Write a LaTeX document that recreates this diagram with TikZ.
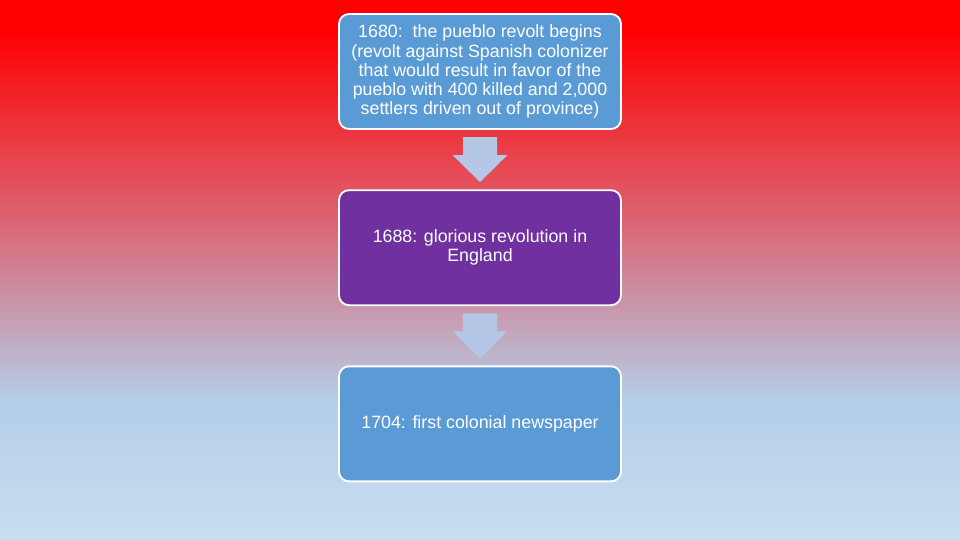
\documentclass[tikz,border=0pt]{standalone}
\usepackage{fontspec}
\setmainfont{Liberation Sans}
\usepackage{tikz}
\usetikzlibrary{positioning,calc}
\definecolor{eventblue}{RGB}{91,155,213}
\definecolor{eventpurple}{RGB}{112,48,160}
\definecolor{arrowblue}{RGB}{180,199,231}
\definecolor{bgred}{RGB}{255,0,0}
\definecolor{bgmid}{RGB}{220,100,115}
\definecolor{bgblue}{RGB}{180,206,232}
\definecolor{bglight}{RGB}{200,222,240}
% block arrow pointing down, centred on a named coordinate
\newcommand{\downarrowat}[1]{%
  \fill[arrowblue] ($(#1)+(-17,-22.5)$) -- ($(#1)+(17,-22.5)$) -- ($(#1)+(17,-4.5)$)
    -- ($(#1)+(27.5,-4.5)$) -- ($(#1)+(0,22.5)$) -- ($(#1)+(-27.5,-4.5)$)
    -- ($(#1)+(-17,-4.5)$) -- cycle;}

\begin{document}
\begin{tikzpicture}[x=0.03cm,y=-0.03cm,
    event/.style={draw=white,line width=0.055cm,rounded corners=0.3cm,
      minimum width=8.46cm,minimum height=3.45cm,text=white,align=center,
      font=\fontsize{15.2}{16.3}\selectfont},
    node distance=1.78cm]
    % Background
    \useasboundingbox (0,0) rectangle (960,540);
    \fill[bgred] (0,0) rectangle (960,30);
    \shade[top color=bgred,bottom color=bgmid] (0,29.5) rectangle (960,220);
    \shade[top color=bgmid,bottom color=bgblue] (0,219.5) rectangle (960,400);
    \shade[top color=bgblue,bottom color=bglight] (0,399.5) rectangle (960,540);
    % Events
    \node[event,fill=eventblue] (y1680) at (480,71.5)
      {1680:\ \ the pueblo revolt begins\\(revolt against Spanish colonizer\\
       that would result in favor of the\\pueblo with 400 killed and 2,000\\
       settlers driven out of province)};
    \node[event,fill=eventpurple,below=of y1680] (y1688)
      {1688: glorious revolution in\\England};
    \node[event,fill=eventblue,below=of y1688] (y1704)
      {1704: first colonial newspaper};
    % Arrows between events
    \coordinate (a1) at ($(y1680.south)!0.5!(y1688.north)$);
    \coordinate (a2) at ($(y1688.south)!0.5!(y1704.north)$);
    \downarrowat{a1}
    \downarrowat{a2}
\end{tikzpicture}
\end{document}
